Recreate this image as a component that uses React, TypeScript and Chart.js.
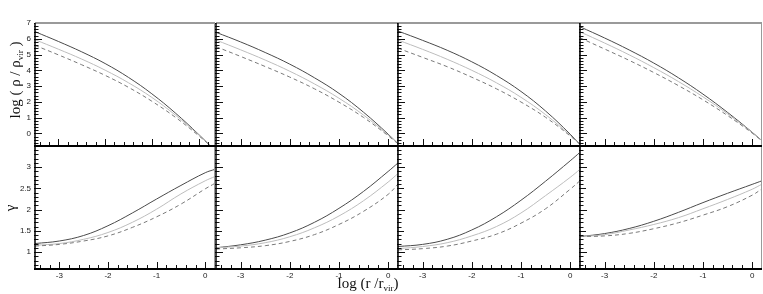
import React, { useEffect, useRef } from "react";
import { Chart, registerables } from "chart.js";

Chart.register(...registerables);

// ---------- data ----------
const LOG_R_RHO = [-3.5, -3, -2.5, -2, -1.5, -1, -0.5, 0, 0.35];
const LOG_R_GAMMA = [-3.5, -3, -2.5, -2, -1.5, -1, -0.5, 0, 0.2];

const RHO_1_DARK = [6.45, 5.83, 5.17, 4.43, 3.55, 2.51, 1.3, -0.06, -1.08];
const RHO_1_LIGHT = [5.94, 5.34, 4.71, 4.01, 3.21, 2.28, 1.17, -0.09, -1.05];
const RHO_1_DASH = [5.58, 4.98, 4.35, 3.68, 2.92, 2.04, 1.03, -0.14, -1.04];

const RHO_2_DARK = [6.41, 5.8, 5.13, 4.39, 3.53, 2.54, 1.34, -0.05, -1.12];
const RHO_2_LIGHT = [5.92, 5.3, 4.65, 3.94, 3.14, 2.23, 1.16, -0.1, -1.06];
const RHO_2_DASH = [5.5, 4.88, 4.24, 3.57, 2.83, 1.98, 1.01, -0.15, -1.06];

const RHO_3_DARK = [6.49, 5.9, 5.27, 4.54, 3.68, 2.66, 1.42, -0.05, -1.2];
const RHO_3_LIGHT = [5.92, 5.33, 4.7, 4.0, 3.21, 2.29, 1.19, -0.12, -1.15];
const RHO_3_DASH = [5.4, 4.82, 4.23, 3.56, 2.83, 1.99, 1.02, -0.16, -1.1];

const RHO_4_DARK = [6.76, 6.05, 5.29, 4.46, 3.53, 2.49, 1.33, 0.07, -0.88];
const RHO_4_LIGHT = [6.44, 5.73, 4.98, 4.17, 3.29, 2.32, 1.24, 0.05, -0.87];
const RHO_4_DASH = [6.06, 5.35, 4.63, 3.86, 3.03, 2.13, 1.13, 0.02, -0.85];

const GAMMA_1_DARK = [1.2, 1.26, 1.39, 1.62, 1.92, 2.25, 2.57, 2.87, 2.95];
const GAMMA_1_LIGHT = [1.16, 1.2, 1.3, 1.46, 1.7, 2.01, 2.37, 2.68, 2.78];
const GAMMA_1_DASH = [1.14, 1.18, 1.26, 1.38, 1.58, 1.83, 2.13, 2.49, 2.62];

const GAMMA_2_DARK = [1.1, 1.17, 1.28, 1.45, 1.7, 2.03, 2.43, 2.9, 3.1];
const GAMMA_2_LIGHT = [1.1, 1.14, 1.22, 1.36, 1.57, 1.85, 2.21, 2.65, 2.85];
const GAMMA_2_DASH = [1.07, 1.1, 1.15, 1.25, 1.41, 1.65, 1.96, 2.36, 2.6];

const GAMMA_3_DARK = [1.13, 1.18, 1.3, 1.52, 1.83, 2.22, 2.67, 3.15, 3.35];
const GAMMA_3_LIGHT = [1.08, 1.13, 1.22, 1.38, 1.6, 1.92, 2.33, 2.76, 2.95];
const GAMMA_3_DASH = [1.05, 1.08, 1.14, 1.26, 1.42, 1.68, 2.02, 2.48, 2.68];

const GAMMA_4_DARK = [1.365, 1.435, 1.555, 1.725, 1.935, 2.165, 2.385, 2.595, 2.68];
const GAMMA_4_LIGHT = [1.365, 1.41, 1.52, 1.65, 1.81, 2.02, 2.24, 2.48, 2.6];
const GAMMA_4_DASH = [1.365, 1.38, 1.44, 1.55, 1.69, 1.87, 2.07, 2.34, 2.49];

const X_TICK_LABELS = [-3, -2, -1, 0];
const RHO_TICK_LABELS = [0, 1, 2, 3, 4, 5, 6, 7];
const GAMMA_TICK_LABELS = [1, 1.5, 2, 2.5, 3];

const RHO_RANGE = [-0.8, 7];
const GAMMA_RANGE = [0.6, 3.5];
const X_RANGE = [-3.5, 0.18];
const X_RANGE_FIRST_RHO = [-3.5, 0.33];

// ---------- layout ----------
const PAD = 40;
const COL_LEFT = [35, 216, 398, 580];
const COL_WIDTH = [179, 181, 181, 181];
const ROW_TOP = [23, 146];
const ROW_HEIGHT = 123;

const COLORS = { dark: "#4a4a4a", light: "#bdbdbd", dash: "#7a7a7a" };

const framePlugin = {
  id: "frame",
  afterDatasetsDraw(chart: any, _args: any, opts: any) {
    const { ctx, chartArea: a, scales } = chart;
    const xs = scales.x;
    const ys = scales.y;
    ctx.save();
    ctx.strokeStyle = "#111";
    ctx.lineWidth = 1;
    const kx0 = Math.ceil(xs.min * 5 - 1e-9);
    const kx1 = Math.floor(xs.max * 5 + 1e-9);
    for (let k = kx0; k <= kx1; k++) {
      const px = Math.round(xs.getPixelForValue(k / 5)) + 0.5;
      const len = k % 5 === 0 ? 7 : 4;
      ctx.beginPath();
      ctx.moveTo(px, a.bottom + 1);
      ctx.lineTo(px, a.bottom - len);
      ctx.stroke();
    }
    const div = opts.yDiv;
    const ky0 = Math.ceil(ys.min * div - 1e-9);
    const ky1 = Math.floor(ys.max * div + 1e-9);
    for (let k = ky0; k <= ky1; k++) {
      const py = Math.round(ys.getPixelForValue(k / div)) + 0.5;
      let len = 3.5;
      if (k % div === 0) len = 7;
      else if (div === 10 && k % 5 === 0) len = 6;
      ctx.beginPath();
      ctx.moveTo(a.left - 1, py);
      ctx.lineTo(a.left + len, py);
      ctx.stroke();
    }
    ctx.strokeStyle = "#9a9a9a";
    ctx.lineWidth = 1;
    ctx.beginPath();
    ctx.moveTo(a.right + 0.5, a.top);
    ctx.lineTo(a.right + 0.5, a.bottom);
    ctx.stroke();
    if (opts.drawTop) {
      ctx.lineWidth = 2;
      ctx.beginPath();
      ctx.moveTo(a.left, a.top);
      ctx.lineTo(a.right + 1, a.top);
      ctx.stroke();
    }
    ctx.strokeStyle = "#000";
    ctx.lineWidth = 1.5;
    ctx.beginPath();
    ctx.moveTo(a.left, a.top);
    ctx.lineTo(a.left, a.bottom);
    ctx.stroke();
    ctx.lineWidth = 2;
    ctx.beginPath();
    ctx.moveTo(a.left - 1, a.bottom);
    ctx.lineTo(a.right + 1, a.bottom);
    ctx.stroke();
    ctx.fillStyle = "#222";
    ctx.font = '8px "Liberation Sans", Arial, sans-serif';
    if (opts.yLabels) {
      ctx.textAlign = "right";
      ctx.textBaseline = "middle";
      for (const v of opts.yLabels) {
        ctx.fillText(String(v), a.left - 4, ys.getPixelForValue(v));
      }
    }
    if (opts.xLabels) {
      ctx.textAlign = "center";
      ctx.textBaseline = "top";
      for (const v of opts.xLabels) {
        ctx.fillText(String(v), xs.getPixelForValue(v), a.bottom + 3);
      }
    }
    ctx.restore();
  },
};

type PanelCfg = {
  left: number;
  top: number;
  width: number;
  xs: number[];
  dark: number[];
  light: number[];
  dash: number[];
  xRange: number[];
  yRange: number[];
  yDiv: number;
  yLabels: number[] | null;
  xLabels: number[] | null;
  drawTop: boolean;
};

function Panel({ cfg }: { cfg: PanelCfg }) {
  const ref = useRef<HTMLCanvasElement>(null);
  const W = cfg.width + 2 * PAD;
  const H = ROW_HEIGHT + 2 * PAD;
  useEffect(() => {
    const mk = (vals: number[], color: string, dash: number[]) => ({
      data: cfg.xs.map((x, i) => ({ x, y: vals[i] })),
      borderColor: color,
      borderWidth: 1,
      borderDash: dash,
      pointRadius: 0,
      fill: false,
      tension: 0.4,
    });
    const chart = new Chart(ref.current!, {
      type: "line",
      data: {
        datasets: [
          mk(cfg.dash, COLORS.dash, [4, 3]),
          mk(cfg.light, COLORS.light, []),
          mk(cfg.dark, COLORS.dark, []),
        ],
      },
      options: {
        animation: false,
        responsive: false,
        devicePixelRatio: 1,
        events: [],
        layout: { padding: PAD },
        scales: {
          x: { type: "linear", min: cfg.xRange[0], max: cfg.xRange[1], display: false },
          y: { type: "linear", min: cfg.yRange[0], max: cfg.yRange[1], display: false },
        },
        plugins: {
          legend: { display: false },
          tooltip: { enabled: false },
          frame: {
            yDiv: cfg.yDiv,
            yLabels: cfg.yLabels,
            xLabels: cfg.xLabels,
            drawTop: cfg.drawTop,
          },
        } as any,
      },
      plugins: [framePlugin],
    });
    return () => chart.destroy();
  }, []);
  return (
    <canvas
      ref={ref}
      width={W}
      height={H}
      style={{
        position: "absolute",
        left: cfg.left - PAD,
        top: cfg.top - PAD,
        width: W,
        height: H,
      }}
    />
  );
}

const RHO_SETS = [
  [RHO_1_DARK, RHO_1_LIGHT, RHO_1_DASH],
  [RHO_2_DARK, RHO_2_LIGHT, RHO_2_DASH],
  [RHO_3_DARK, RHO_3_LIGHT, RHO_3_DASH],
  [RHO_4_DARK, RHO_4_LIGHT, RHO_4_DASH],
];
const GAMMA_SETS = [
  [GAMMA_1_DARK, GAMMA_1_LIGHT, GAMMA_1_DASH],
  [GAMMA_2_DARK, GAMMA_2_LIGHT, GAMMA_2_DASH],
  [GAMMA_3_DARK, GAMMA_3_LIGHT, GAMMA_3_DASH],
  [GAMMA_4_DARK, GAMMA_4_LIGHT, GAMMA_4_DASH],
];

export default function App() {
  const panels: PanelCfg[] = [];
  for (let c = 0; c < 4; c++) {
    panels.push({
      left: COL_LEFT[c],
      top: ROW_TOP[1],
      width: COL_WIDTH[c],
      xs: LOG_R_GAMMA,
      dark: GAMMA_SETS[c][0],
      light: GAMMA_SETS[c][1],
      dash: GAMMA_SETS[c][2],
      xRange: X_RANGE,
      yRange: GAMMA_RANGE,
      yDiv: 10,
      yLabels: c === 0 ? GAMMA_TICK_LABELS : null,
      xLabels: X_TICK_LABELS,
      drawTop: false,
    });
  }
  for (let c = 0; c < 4; c++) {
    panels.push({
      left: COL_LEFT[c],
      top: ROW_TOP[0],
      width: COL_WIDTH[c],
      xs: LOG_R_RHO,
      dark: RHO_SETS[c][0],
      light: RHO_SETS[c][1],
      dash: RHO_SETS[c][2],
      xRange: c === 0 ? X_RANGE_FIRST_RHO : X_RANGE,
      yRange: RHO_RANGE,
      yDiv: 5,
      yLabels: c === 0 ? RHO_TICK_LABELS : null,
      xLabels: null,
      drawTop: true,
    });
  }
  const serif = '"Liberation Serif", "Times New Roman", serif';
  const sub: React.CSSProperties = { fontSize: 9, position: "relative", top: 3 };
  return (
    <div
      style={{
        position: "absolute",
        left: 0,
        top: 0,
        width: 763,
        height: 294,
        background: "#fff",
        overflow: "hidden",
        fontFamily: serif,
        color: "#111",
      }}
    >
      {panels.map((p, i) => (
        <Panel key={i} cfg={p} />
      ))}
      <div
        style={{
          position: "absolute",
          left: 16,
          top: 80,
          transform: "translate(-50%, -50%) rotate(-90deg)",
          whiteSpace: "nowrap",
          fontSize: 15,
          lineHeight: "18px",
        }}
      >
        log ( ρ / ρ<span style={sub}>vir</span> )
      </div>
      <div
        style={{
          position: "absolute",
          left: 10,
          top: 208,
          transform: "translate(-50%, -50%) rotate(-90deg)",
          whiteSpace: "nowrap",
          fontSize: 15,
          lineHeight: "18px",
        }}
      >
        γ
      </div>
      <div
        style={{
          position: "absolute",
          left: 368,
          top: 284,
          transform: "translate(-50%, -50%)",
          whiteSpace: "nowrap",
          fontSize: 15,
          lineHeight: "18px",
        }}
      >
        log (r /r<span style={sub}>vir</span>)
      </div>
    </div>
  );
}
